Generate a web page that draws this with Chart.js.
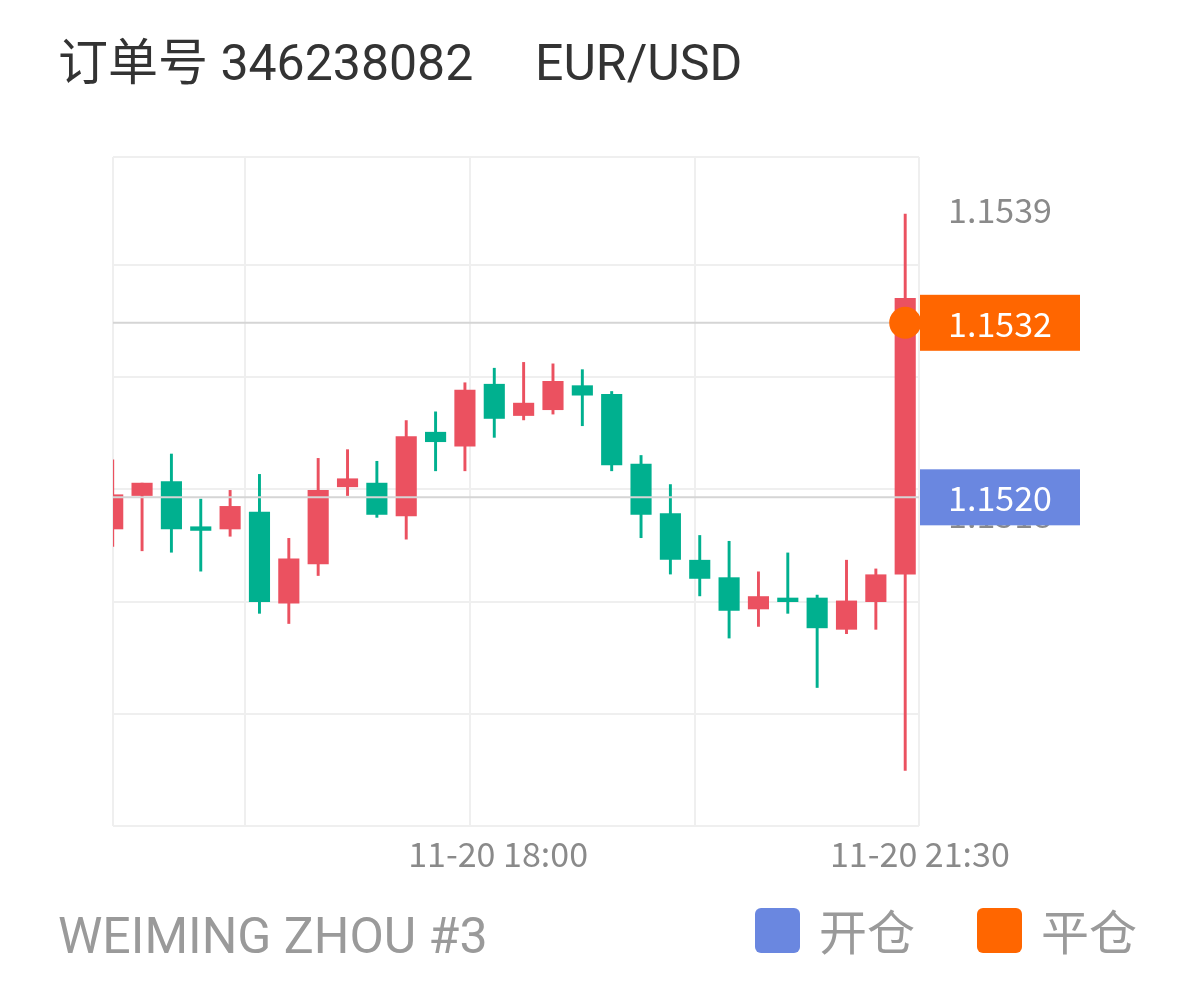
<!DOCTYPE html>
<html>
<head>
<meta charset="utf-8">
<script src="https://cdn.jsdelivr.net/npm/chart.js@4.4.1/dist/chart.umd.min.js"></script>
<style>
  html, body { margin: 0; padding: 0; background: #fff; }
  #wrap { position: relative; width: 1198px; height: 990px; overflow: hidden; }
</style>
</head>
<body>
<div id="wrap"><canvas id="kline"></canvas></div>
<script>
/* 15-min candles, EUR/USD, oldest first */
var opens  = [1.15178, 1.15201, 1.15211, 1.15180, 1.15178, 1.15190, 1.15127, 1.15154, 1.15207, 1.15210, 1.15187, 1.15245, 1.15235, 1.15278,
              1.15256, 1.15260, 1.15277, 1.15271, 1.15223, 1.15189, 1.15157, 1.15145, 1.15123, 1.15131, 1.15131, 1.15109, 1.15128, 1.15147];
var closes = [1.15202, 1.15210, 1.15178, 1.15177, 1.15194, 1.15128, 1.15158, 1.15205, 1.15213, 1.15188, 1.15242, 1.15238, 1.15274, 1.15254,
              1.15265, 1.15280, 1.15270, 1.15222, 1.15188, 1.15157, 1.15144, 1.15122, 1.15132, 1.15128, 1.15110, 1.15129, 1.15147, 1.15337];
var highs  = [1.15226, 1.15210, 1.15230, 1.15199, 1.15205, 1.15216, 1.15172, 1.15227, 1.15233, 1.15225, 1.15253, 1.15259, 1.15279, 1.15289,
              1.15293, 1.15292, 1.15288, 1.15273, 1.15229, 1.15209, 1.15174, 1.15170, 1.15149, 1.15162, 1.15133, 1.15157, 1.15151, 1.15395];
var lows   = [1.15166, 1.15163, 1.15162, 1.15149, 1.15173, 1.15120, 1.15113, 1.15146, 1.15201, 1.15186, 1.15171, 1.15218, 1.15218, 1.15241,
              1.15253, 1.15257, 1.15249, 1.15218, 1.15172, 1.15147, 1.15132, 1.15103, 1.15111, 1.15120, 1.15069, 1.15106, 1.15109, 1.15012];

/* axis ranges and grid (x in candle-index units) */
var xRange = [0.01, 27.47];
var yRange = [1.14974, 1.15434];
var gridX = [4.51, 12.17, 19.84];
var gridY = [1.15360, 1.15283, 1.15206, 1.15128, 1.15051];

/* texts */
var timeLabels = ['11-20 18:00', '11-20 21:30'];
var timeLabelPos = [13.13, 27.5];
var priceLabels = [1.1539, 1.1518];
var titleParts = ['订单号 346238082', 'EUR/USD'];
var footerText = 'WEIMING ZHOU #3';

/* order marks */
var openPrice = 1.1520;
var closePrice = 1.1532;
var closeIndex = 27;
var legendNames = ['开仓', '平仓'];

var C = {
  up: '#eb5160', down: '#00b08f', open: '#6a87e0', close: '#ff6600',
  grid: '#efefef', level: '#d5d5d5', axisText: '#8a8a8a', title: '#333333', footer: '#9a9a9a'
};

var bodies = [], wicks = [], colors = [];
for (var i = 0; i < opens.length; i++) {
  bodies.push({ x: i, y: [opens[i], closes[i]] });
  wicks.push({ x: i, y: [lows[i], highs[i]] });
  colors.push(closes[i] >= opens[i] ? C.up : C.down);
}

function levelLine(v) {
  return [{ x: xRange[0], y: v }, { x: xRange[1], y: v }];
}

var overlay = {
  id: 'overlay',
  afterDraw: function (chart) {
    var ctx = chart.ctx, xs = chart.scales.x, ys = chart.scales.y, area = chart.chartArea;
    ctx.save();
    ctx.textBaseline = 'alphabetic';

    /* header */
    ctx.fillStyle = C.title;
    ctx.font = '50px Roboto, "Noto Sans CJK SC", sans-serif';
    ctx.textAlign = 'left';
    ctx.fillText(titleParts[0], 58, 80);
    ctx.fillText(titleParts[1], 535, 80);

    /* right price labels */
    ctx.font = '34px "Noto Sans CJK SC", sans-serif';
    ctx.fillStyle = C.axisText;
    ctx.textAlign = 'center';
    var lx = area.right + 81;
    priceLabels.forEach(function (v) {
      ctx.fillText(v.toFixed(4), lx, ys.getPixelForValue(v) + 2);
    });

    /* open / close tags */
    [[openPrice, C.open], [closePrice, C.close]].forEach(function (m) {
      var y = ys.getPixelForValue(m[0]);
      ctx.fillStyle = m[1];
      ctx.fillRect(area.right + 1, y - 28, 160, 56);
      ctx.fillStyle = '#fff';
      ctx.textBaseline = 'middle';
      ctx.fillText(m[0].toFixed(4), lx, y + 1);
      ctx.textBaseline = 'alphabetic';
    });

    /* time labels */
    ctx.fillStyle = C.axisText;
    timeLabels.forEach(function (t, k) {
      ctx.fillText(t, xs.getPixelForValue(timeLabelPos[k]), 867);
    });

    /* footer */
    ctx.textAlign = 'left';
    ctx.fillStyle = C.footer;
    ctx.font = '50px Roboto, sans-serif';
    ctx.fillText(footerText, 58, 953);

    /* legend */
    ctx.font = '48px "Noto Sans CJK SC", sans-serif';
    [[755, C.open, legendNames[0]], [977, C.close, legendNames[1]]].forEach(function (l) {
      ctx.fillStyle = l[1];
      ctx.beginPath();
      ctx.roundRect(l[0], 908, 45, 45, 6);
      ctx.fill();
      ctx.fillStyle = C.footer;
      ctx.fillText(l[2], l[0] + 64, 950);
    });
    ctx.restore();
  }
};

new Chart(document.getElementById('kline'), {
  type: 'bar',
  data: {
    datasets: [
      { type: 'line', data: [{ x: closeIndex, y: closePrice }], showLine: false, pointRadius: 16, pointHoverRadius: 16,
        pointBackgroundColor: C.close, pointBorderWidth: 0, clip: false, order: 0 },
      { type: 'line', data: levelLine(closePrice), borderColor: C.level, borderWidth: 2, pointRadius: 0, order: 1 },
      { type: 'line', data: levelLine(openPrice), borderColor: C.level, borderWidth: 2, pointRadius: 0, order: 1 },
      { data: bodies, backgroundColor: colors, grouped: false, categoryPercentage: 0.8, barPercentage: 0.9, order: 2 },
      { data: wicks, backgroundColor: colors, grouped: false, categoryPercentage: 1, barPercentage: 0.1, order: 3 }
    ]
  },
  options: {
    responsive: true,
    maintainAspectRatio: false,
    animation: false,
    events: [],
    layout: { padding: { left: 113, right: 279, top: 157, bottom: 164 } },
    plugins: { legend: { display: false }, tooltip: { enabled: false } },
    scales: {
      x: {
        type: 'linear', min: xRange[0], max: xRange[1], offset: false,
        afterBuildTicks: function (s) { s.ticks = [xRange[0]].concat(gridX, [xRange[1]]).map(function (v) { return { value: v }; }); },
        ticks: { display: false },
        grid: { color: C.grid, lineWidth: 2, drawTicks: false, offset: false },
        border: { display: false }
      },
      y: {
        min: yRange[0], max: yRange[1],
        afterBuildTicks: function (s) { s.ticks = [yRange[0]].concat(gridY, [yRange[1]]).map(function (v) { return { value: v }; }); },
        ticks: { display: false },
        grid: { color: C.grid, lineWidth: 2, drawTicks: false },
        border: { display: false }
      }
    }
  },
  plugins: [overlay]
});
</script>
</body>
</html>
